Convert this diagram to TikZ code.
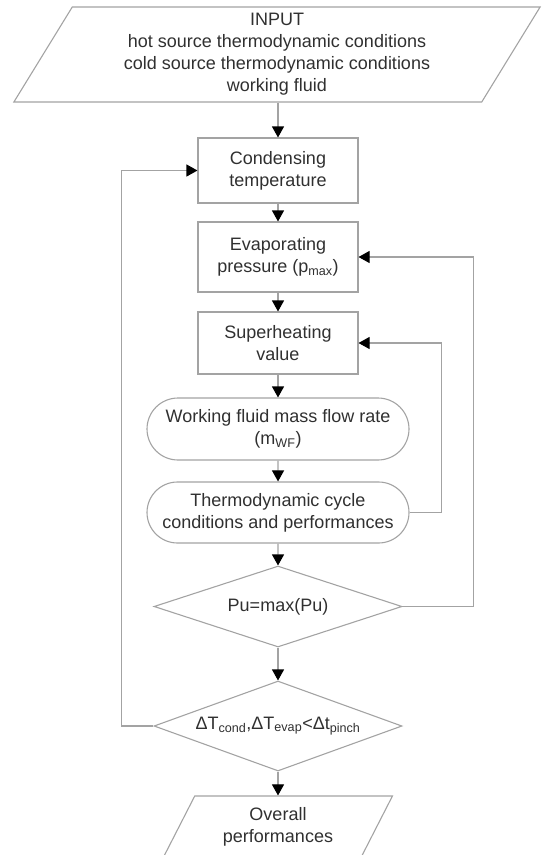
\documentclass[tikz,border=0pt]{standalone}
\usepackage{fontspec}
\setmainfont{Liberation Sans}
\usepackage{xcolor}
\usetikzlibrary{shapes.geometric,shapes.misc,arrows.meta}

\definecolor{edgegray}{HTML}{A3A3A3}
\definecolor{textgray}{HTML}{303030}

\begin{document}
\begin{tikzpicture}[x=1pt,y=-1pt,
  every node/.style={font=\fontsize{18}{22}\selectfont, text=textgray, align=center,
    draw=edgegray, line width=1.1pt, inner sep=0pt},
  io/.style={trapezium, trapezium left angle=62, trapezium right angle=118,
    trapezium stretches=true},
  stepbox/.style={rectangle, minimum width=160},
  calc/.style={rounded rectangle, minimum width=262},
  test/.style={diamond, aspect=2.8, minimum width=248},
  flow/.style={draw=edgegray, line width=1.1pt,
    -{Triangle[length=11pt, width=12pt, color=black]}},
  loop/.style={flow, rounded corners=0pt}] % Tikz environment
\useasboundingbox (0,0) rectangle (543,855);
\clip (0,0) rectangle (543,855);

% main column of the flow chart
\node[io, minimum width=528, minimum height=95] (input) at (277,54.5)
  {INPUT\\hot source thermodynamic conditions\\cold source thermodynamic conditions\\working fluid};
\node[stepbox, minimum height=65] (cond) at (278,170.5) {Condensing\\temperature};
\node[stepbox, minimum height=70] (evap) at (278,257) {Evaporating\\pressure (p\textsubscript{max})};
\node[stepbox, minimum height=62] (superh) at (278,343) {Superheating\\value};
\node[calc, minimum height=62] (mflow) at (278,429) {Working fluid mass flow rate\\(m\textsubscript{WF})};
\node[calc, minimum height=61] (cycle) at (278,512.5) {Thermodynamic cycle\\conditions and performances};
\node[test, minimum height=81] (pumax) at (278,606.5) {Pu=max(Pu)};
\node[test, minimum height=90] (check) at (278,726)
  {ΔT\textsubscript{cond},ΔT\textsubscript{evap}<Δt\textsubscript{pinch}};
\node[io, minimum width=229, minimum height=61] (overall) at (278,826.5) {Overall\\performances};

\draw[flow] (input.south -| cond) -- (cond);
\draw[flow] (cond) -- (evap);
\draw[flow] (evap) -- (superh);
\draw[flow] (superh) -- (mflow);
\draw[flow] (mflow) -- (cycle);
\draw[flow] (cycle) -- (pumax);
\draw[flow] (pumax) -- (check);
\draw[flow] (check) -- (overall.north -| check);

% feedback loops
\draw[loop] (check.west) -- ++(-32,0) |- (cond.west);
\draw[loop] (pumax.east) -- ++(71,0) |- (evap.east);
\draw[loop] (cycle.east) -- ++(32,0) |- (superh.east);
\end{tikzpicture}
\end{document}
